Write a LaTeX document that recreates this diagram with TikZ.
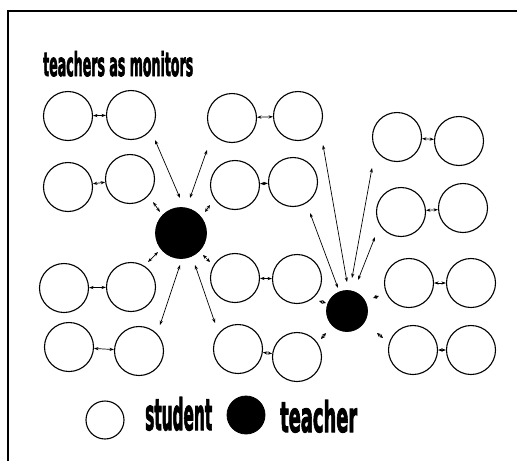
\documentclass[tikz,border=0pt]{standalone}
\usepackage{fontspec}
\usepackage{graphicx}
\setmainfont{DejaVu Sans}
\newfontfamily\impf[FakeBold=3]{DejaVu Sans}
\usetikzlibrary{arrows.meta}
\begin{document}
\begin{tikzpicture}[x=1pt,y=-1pt,
  stu/.style={circle,draw,line width=1.1pt,minimum size=49pt,inner sep=0pt},
  tea/.style={circle,fill=black,draw,line width=0.8pt,minimum size=#1,inner sep=0pt},
  dbl/.style={{Stealth[length=4.5pt,width=3.2pt]}-{Stealth[length=4.5pt,width=3.2pt]},line width=0.7pt},
  tick/.style={{Stealth[length=4pt,width=3.6pt]}-{Stealth[length=4pt,width=3.6pt]},line width=0.7pt},
  lbl/.style={inner sep=0pt,anchor=base west,font=\impf\bfseries}]
\useasboundingbox (0,0) rectangle (517,461);
\draw[line width=1.8pt] (8,461) -- (8,11) -- (517,11);
\node[lbl] (title) at (43,76) {\resizebox{150pt}{25pt}{teachers as monitors}};
% left group
\node[stu] (A) at (68,116) {};
\node[stu] (B) at (131,115) {};
\node[stu] (C) at (68,187) {};
\node[stu] (D) at (130,179) {};
\node[stu] (M) at (64,288) {};
\node[stu] (N) at (131,287) {};
\node[stu] (O) at (69,347) {};
\node[stu] (P) at (139,351) {};
% middle group
\node[stu] (E) at (232,118) {};
\node[stu] (G) at (298,116) {};
\node[stu] (F) at (235,185) {};
\node[stu] (H) at (293,182) {};
\node[stu] (Q) at (235,278) {};
\node[stu] (S) at (297,279) {};
\node[stu] (R) at (238,349) {};
\node[stu] (U) at (297,357) {};
% right group
\node[stu] (I) at (397,137) {};
\node[stu] (J) at (459,141) {};
\node[stu] (K) at (401,212) {};
\node[stu] (L) at (463,208) {};
\node[stu] (V) at (409,283) {};
\node[stu] (W) at (471,283) {};
\node[stu] (X) at (413,350) {};
\node[stu] (Y) at (471,350) {};
% teachers
\node[tea=51pt] (T1) at (181,233) {};
\node[tea=41pt] (T2) at (347,311) {};
% pair connectors
\foreach \a/\b in {A/B,C/D,M/N,O/P,E/G,F/H,Q/S,R/U,I/J,K/L,V/W,X/Y}
  \draw[dbl] (\a) -- (\b);
% teacher 1
\draw[dbl] ([shift={(24,25)}]B.center) -- ([shift={(-1,-35)}]T1.center);
\draw[dbl] ([shift={(9,-35)}]T1.center) -- ([shift={(-25,32)}]E.center);
\draw[dbl] ([shift={(-21,-21)}]T1.center) -- ([shift={(23,23)}]D.center);
\draw[tick] ([shift={(24,-21)}]T1.center) -- ([shift={(-25,20)}]F.center);
\draw[dbl] ([shift={(-23,19)}]T1.center) -- ([shift={(17,-25)}]N.center);
\draw[tick] ([shift={(22,22)}]T1.center) -- ([shift={(-25,-16)}]Q.center);
\draw[dbl] ([shift={(-1,32)}]T1.center) -- ([shift={(21,-26)}]P.center);
\draw[dbl] ([shift={(14,32)}]T1.center) -- ([shift={(-23,-26)}]R.center);
% teacher 2
\draw[dbl] ([shift={(17,31)}]H.center) -- ([shift={(-9,-23)}]T2.center);
\draw[dbl] ([shift={(25,29)}]G.center) -- ([shift={(0,-29)}]T2.center);
\draw[dbl] ([shift={(-25,31)}]I.center) -- ([shift={(5,-33)}]T2.center);
\draw[dbl] ([shift={(-26,25)}]K.center) -- ([shift={(11,-31)}]T2.center);
\draw[tick] ([shift={(-21,-8)}]T2.center) -- ([shift={(22,22)}]S.center);
\draw[tick] ([shift={(26,-13)}]T2.center) -- ([shift={(-30,13)}]V.center);
\draw[tick] ([shift={(-21,22)}]T2.center) -- ([shift={(24,-18)}]U.center);
\draw[tick] ([shift={(30,22)}]T2.center) -- ([shift={(-30,-12)}]X.center);
% legend
\node[stu,minimum size=38pt] (ls) at (105,420) {};
\node[lbl] (lst) at (145,430) {\resizebox{67pt}{33pt}{student}};
\node[tea=38pt] (lt) at (246,415) {};
\node[lbl] (ltt) at (280,432) {\resizebox{77pt}{32pt}{teacher}};
\end{tikzpicture}
\end{document}
